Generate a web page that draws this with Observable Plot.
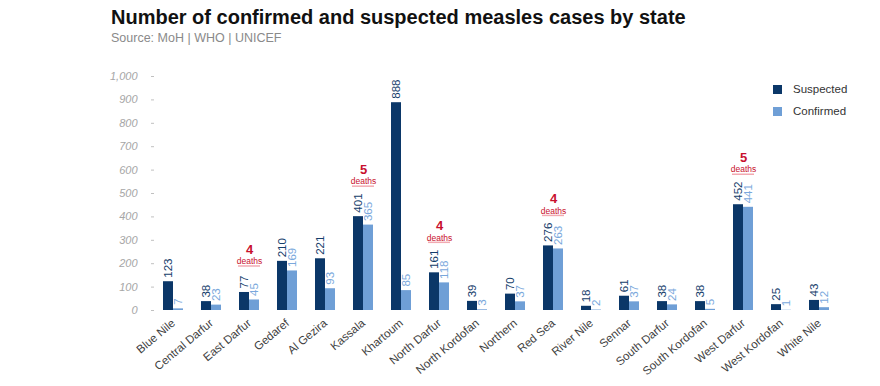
<!DOCTYPE html>
<html><head><meta charset="utf-8">
<script src="https://cdn.jsdelivr.net/npm/d3@7"></script>
<script src="https://cdn.jsdelivr.net/npm/@observablehq/plot@0.6"></script>
<style>
body{margin:0;background:#fff;font-family:"Liberation Sans",Arial,sans-serif;}
#wrap{position:relative;width:880px;height:386px;overflow:hidden;background:#fff}
#title{position:absolute;left:111px;top:6px;font-size:20px;font-weight:bold;color:#111;white-space:nowrap}
#sub{position:absolute;left:111px;top:31px;font-size:12.5px;color:#8a8a8a;white-space:nowrap}
#chart{position:absolute;left:0;top:48px}
#legend{position:absolute;left:773px;top:78px;font-size:11.5px;color:#333}
.row{display:flex;align-items:center;height:22px}
.sw{width:9px;height:9px;margin-right:11px}
</style></head><body>
<div id="wrap">
<div id="title">Number of confirmed and suspected measles cases by state</div>
<div id="sub">Source: MoH | WHO | UNICEF</div>
<div id="chart"></div>
<div id="legend"></div>
</div>
<script>
const states = ["Blue Nile","Central Darfur","East Darfur","Gedaref","Al Gezira","Kassala","Khartoum","North Darfur","North Kordofan","Northern","Red Sea","River Nile","Sennar","South Darfur","South Kordofan","West Darfur","West Kordofan","White Nile"];
const suspected = [123,38,77,210,221,401,888,161,39,70,276,18,61,38,38,452,25,43];
const confirmed = [7,23,45,169,93,365,85,118,3,37,263,2,37,24,5,441,1,12];
const seriesNames = ["Suspected","Confirmed"];
const seriesColors = ["#0b3768","#6f9fd6"];
const labelColors = ["#153d6b","#7aa8dc"];
const deathStates = ["East Darfur","Kassala","North Darfur","Red Sea","West Darfur"];
const deathCounts = [4,5,4,4,5];
const yTicks = [0,100,200,300,400,500,600,700,800,900,1000];

const rows = [];
states.forEach((s,i)=>{
  rows.push({state:s, series:"Suspected", value:suspected[i]});
  rows.push({state:s, series:"Confirmed", value:confirmed[i]});
});
const deathRows = deathStates.map((s,k)=>{
  const i = states.indexOf(s);
  const top = Math.max(suspected[i], confirmed[i]);
  return {state:s, deaths:deathCounts[k], top, digits:String(top).length};
});

const deathMarks = deathRows.flatMap(r => [
  Plot.text([r], {fx:"state", y:"top", text:d=>String(d.deaths), dy:-(r.digits*4+35), fill:"#c8102e", fontWeight:"bold", fontSize:13}),
  Plot.text([r], {fx:"state", y:"top", text:()=>"deaths", dy:-(r.digits*4+23), fill:"#c8102e", fontSize:8.5}),
  Plot.ruleY([r], {fx:"state", y:"top", dy:-(r.digits*4+18.5), stroke:"#f2aab2", strokeWidth:1.5, insetLeft:8, insetRight:8})
]);

const chart = Plot.plot({
  width: 880, height: 338,
  marginLeft: 154, marginRight: 42, marginTop: 28, marginBottom: 76,
  style: {fontFamily: "Liberation Sans, Arial, sans-serif", background: "white"},
  fx: {domain: states, padding: 0, label: null},
  x: {domain: seriesNames, paddingInner: 0, paddingOuter: 0.81, axis: null},
  y: {domain: [0,1000], label: null},
  color: {domain: seriesNames, range: seriesColors},
  marks: [
    Plot.axisY({ticks: yTicks, tickFormat: d3.format(","), tickSize: 3, tickPadding: 14, fontStyle: "italic", fill: "#a6a6a6", stroke: "#c0c0c0", fontSize: 11, label: null}),
    Plot.axisFx({anchor: "bottom", tickSize: 0, tickPadding: 11, tickRotate: -40, fontSize: 11.5, fill: "#404040", label: null}),
    Plot.barY(rows, {fx: "state", x: "series", y: "value", fill: "series"}),
    Plot.text(rows, {fx: "state", x: "series", y: "value", text: d => String(d.value), rotate: -90, textAnchor: "start", dy: -4, fill: d => labelColors[seriesNames.indexOf(d.series)], fontSize: 11.5}),
    ...deathMarks
  ]
});
document.getElementById("chart").appendChild(chart);

const legend = document.getElementById("legend");
seriesNames.forEach((n,i)=>{
  const row = document.createElement("div"); row.className = "row";
  const sw = document.createElement("div"); sw.className = "sw"; sw.style.background = seriesColors[i];
  const t = document.createElement("span"); t.textContent = n;
  row.appendChild(sw); row.appendChild(t); legend.appendChild(row);
});
</script>
</body></html>
